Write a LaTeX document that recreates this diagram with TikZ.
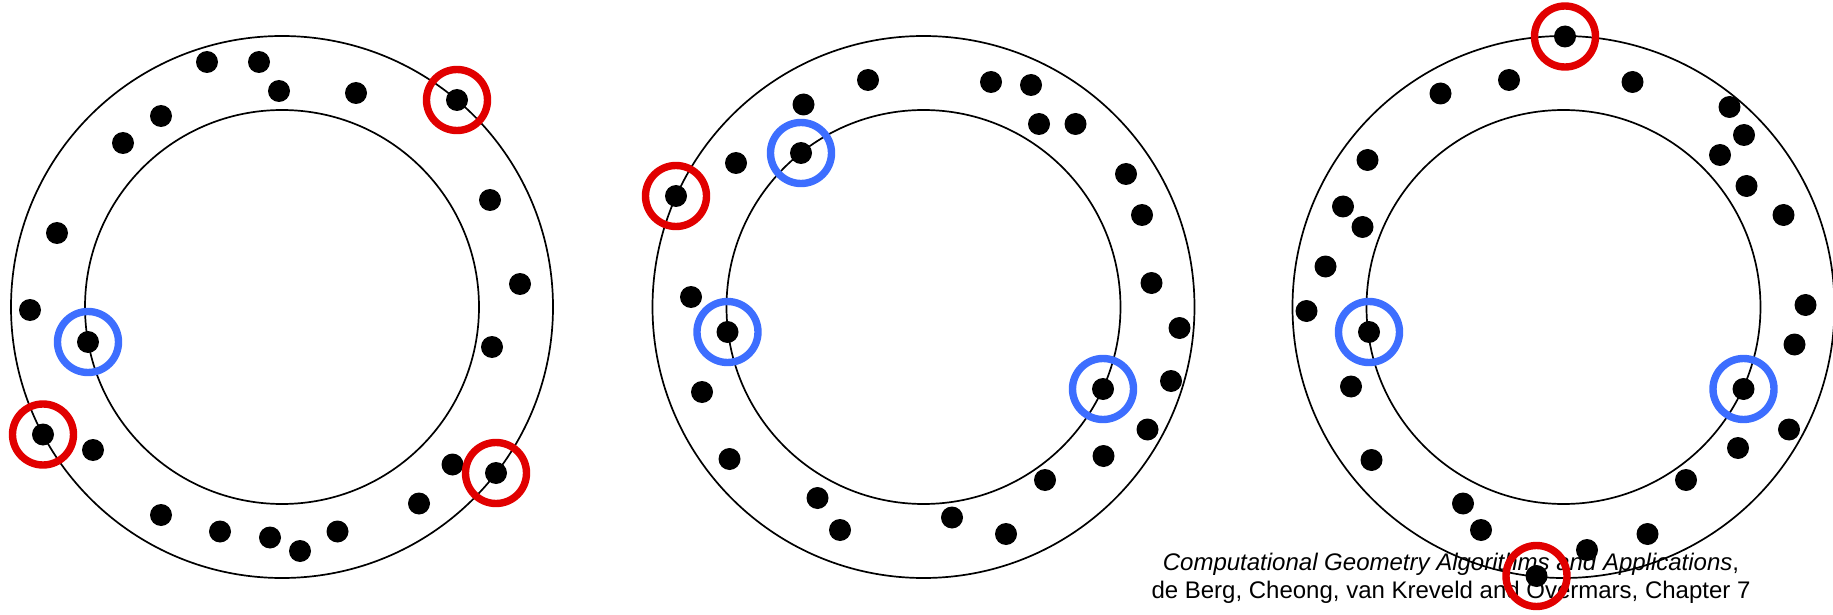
\documentclass[tikz,border=0pt]{standalone}
\usepackage{fontspec}
\setmainfont{Liberation Sans}
\definecolor{markred}{RGB}{225,0,0}
\definecolor{markblue}{RGB}{61,110,255}
\tikzset{
  ring/.style={line width=0.85pt,black},
  dot/.style={circle,fill=black,inner sep=0pt,minimum size=11pt},
  redmark/.style={line width=3.7pt,markred},
  bluemark/.style={line width=3.7pt,markblue},
  cite/.style={anchor=base,inner sep=0pt,font=\fontsize{12}{14}\selectfont}
}
\begin{document}
\begin{tikzpicture}[x=0.5pt,y=-0.5pt]
\useasboundingbox (0,0) rectangle (1833,615);

% Reference
\node[cite] (book) at (1451,570) {\textit{Computational Geometry Algorithms and Applications},};
\node[cite] (authors) at (1451,598) {de Berg, Cheong, van Kreveld and Overmars, Chapter 7};

% Annuli
\coordinate (ringA) at (282,307);
\coordinate (ringB) at (923.5,307);
\coordinate (ringC) at (1563.5,307);
\foreach \c in {ringA,ringB,ringC}{
  \draw[ring] (\c) circle (135.5pt);
  \draw[ring] (\c) circle (98.5pt);
}

% Points, first annulus
\foreach \x/\y [count=\i] in {207/62,259/62,279/91,356/93,457/100,161/116,123/143,
    490/200,57/233,520/284,30/310,88/342,492/347,43/434.5,93/450,452.5/464.5,
    496/473,419/503.5,161/515,220/531.5,270/537.5,300/551,337.5/531.5}
  \node[dot] (pa\i) at (\x,\y) {};

% Points, second annulus
\foreach \x/\y [count=\i] in {868/80,991/82,1031/85,803.5/104.5,1039/124,1075.5/124,
    801/153,736/163,1126/174,676/196,1142/215,1151.5/283,691/297,727.5/332,
    1179.5/328,1171/381,702/392,1103/389,1147.5/429.5,1103.5/456,729.5/459,
    1045/480,817.5/498,952/517.5,840/530,1006/534}
  \node[dot] (pb\i) at (\x,\y) {};

% Points, third annulus
\foreach \x/\y [count=\i] in {1565/36.5,1509/80,1632.5/82,1440.5/93.5,1729.5/107,
    1744/135,1720/155,1367.5/160,1746.5/186,1783.5/215,1343/206.5,1362.5/227,
    1325.5/266.5,1805.5/305,1306.5/311,1369/332,1794.5/344.5,1351/386.5,
    1743.5/389,1789/429.5,1738/448,1371.5/460,1686/480,1463/503.5,1481/530,
    1647.5/534,1587/550,1536.5/576}
  \node[dot] (pc\i) at (\x,\y) {};

% Points on the outer circle
\foreach \p in {pa5,pa14,pa17,pb10,pc1,pc28}
  \draw[redmark] (\p.center) circle (15.25pt);

% Points on the inner circle
\foreach \p in {pa12,pb7,pb14,pb18,pc16,pc19}
  \draw[bluemark] (\p.center) circle (15.25pt);
\end{tikzpicture}
\end{document}
